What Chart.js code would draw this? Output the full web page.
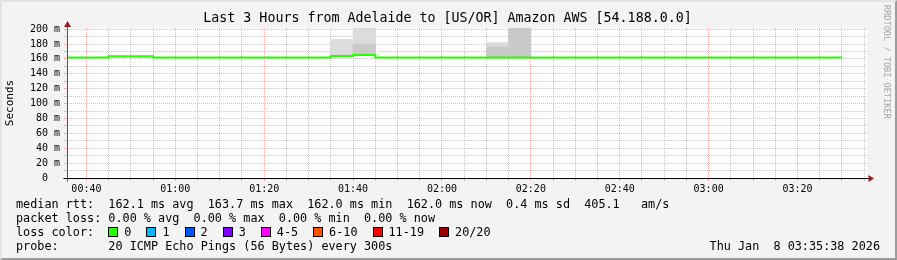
<!DOCTYPE html>
<html>
<head>
<meta charset="utf-8">
<script src="https://cdn.jsdelivr.net/npm/chart.js@4.4.1/dist/chart.umd.min.js"></script>
<style>
  html, body { margin: 0; padding: 0; background: #f3f3f3; }
  #frame { position: relative; width: 897px; height: 260px; background: #f3f3f3; overflow: hidden;
           font-family: "DejaVu Sans Mono", monospace; color: #000; }
  #frame:after { content: ""; position: absolute; left: 0; top: 0; right: 0; bottom: 0; pointer-events: none;
                 border-top: 2px solid #e2e2e2; border-left: 2px solid #e2e2e2;
                 border-right: 2px solid #9c9c9c; border-bottom: 2px solid #9c9c9c; }
  canvas { position: absolute; left: 0; top: 0; }
  #legend { position: absolute; left: 16px; top: 197px; font-size: 11.8px; line-height: 14px; white-space: pre; }
  .box { display: inline-block; width: 8px; height: 8px; border: 1px solid #000; vertical-align: -1px; margin-right: 6px; }
  .item { margin-right: 15px; }
  #stamp { position: absolute; right: 17px; top: 239px; font-size: 11.8px; line-height: 14px; white-space: pre; }
  #credit { position: absolute; left: 882px; top: 5px; writing-mode: vertical-rl; font-size: 8.6px;
            line-height: 10px; color: #a8a8a8; white-space: pre; }
</style>
</head>
<body>
<div id="frame">
  <canvas id="graph" width="897" height="260"></canvas>
  <div id="legend"></div>
  <div id="stamp">Thu Jan  8 03:35:38 2026</div>
  <div id="credit">RRDTOOL / TOBI OETIKER</div>
</div>
<script>
// 5 minute samples, each value covers the 5 minutes ending at its time
const sampleTimes = ['00:35','00:40','00:45','00:50','00:55',
  '01:00','01:05','01:10','01:15','01:20','01:25','01:30','01:35','01:40','01:45','01:50','01:55',
  '02:00','02:05','02:10','02:15','02:20','02:25','02:30','02:35','02:40','02:45','02:50','02:55',
  '03:00','03:05','03:10','03:15','03:20','03:25','03:30'];
const medianRtt = [162.0, 162.0, 162.0, 163.4, 163.4,
  162.0, 162.0, 162.0, 162.0, 162.0, 162.0, 162.0, 162.0, 164.0, 165.2, 162.0, 162.0,
  162.0, 162.0, 162.0, 162.0, 162.0, 162.0, 162.0, 162.0, 162.0, 162.0, 162.0, 162.0,
  162.0, 162.0, 162.0, 162.0, 162.0, 162.0, 162.0];

// smoke (spread of the 20 pings) where it is visible
const smokeTimes = ['01:40', '01:45', '02:15', '02:20'];
const smokeBase = [164.0, 165.2, 162.0, 162.0];
const smokeInnerTop = [null, 180, 176, 210];
const smokeOuterTop = [186, 210, 182, 210];

const xTickLabels = ['00:40','01:00','01:20','01:40','02:00','02:20','02:40','03:00','03:20'];

const lossLabels = ['0', '1', '2', '3', '4-5', '6-10', '11-19', '20/20'];
const lossColors = ['#26ff00', '#00b8ff', '#0059ff', '#7e00ff', '#ff00ff', '#ff5500', '#ff0000', '#a10000'];

const startMin = 35 + 38 / 60;   // 00:35:38
const endMin = startMin + 180;

function toMin(t) {
  const p = t.split(':');
  return Number(p[0]) * 60 + Number(p[1]);
}
function fmt(v) {
  const h = Math.floor(v / 60), m = Math.round(v % 60);
  return String(h).padStart(2, '0') + ':' + String(m).padStart(2, '0');
}

const MAJOR = 'rgba(255, 0, 0, 0.32)';
const MINOR = 'rgba(128, 128, 128, 0.45)';

const rrdFrame = {
  id: 'rrdFrame',
  beforeDraw(chart) {
    const { ctx, chartArea: a } = chart;
    ctx.save();
    ctx.fillStyle = '#ffffff';
    ctx.fillRect(a.left, a.top, a.right - a.left, a.bottom - a.top);
    ctx.restore();
  },
  afterDraw(chart) {
    const { ctx, chartArea: a } = chart;
    const x0 = Math.round(a.left) + 0.5, y0 = Math.round(a.bottom) + 0.5;
    ctx.save();
    ctx.lineWidth = 1;
    ctx.strokeStyle = '#555';
    ctx.beginPath(); ctx.moveTo(x0, y0 + 3); ctx.lineTo(x0, a.top - 2); ctx.stroke();
    ctx.strokeStyle = '#000';
    ctx.beginPath(); ctx.moveTo(x0 - 4, y0); ctx.lineTo(a.right + 2, y0); ctx.stroke();
    ctx.fillStyle = '#9b1b1b';
    ctx.beginPath(); ctx.moveTo(x0, a.top - 7); ctx.lineTo(x0 - 3.5, a.top - 1); ctx.lineTo(x0 + 3.5, a.top - 1); ctx.closePath(); ctx.fill();
    ctx.beginPath(); ctx.moveTo(a.right + 7, y0); ctx.lineTo(a.right + 1.5, y0 - 3.5); ctx.lineTo(a.right + 1.5, y0 + 3.5); ctx.closePath(); ctx.fill();
    ctx.restore();
  }
};

Chart.defaults.font.family = '"DejaVu Sans Mono", monospace';
Chart.defaults.color = '#000';

const lineData = sampleTimes.map((t, i) => ({ x: toMin(t), y: medianRtt[i] }));
const innerData = smokeTimes.map((t, i) => ({ x: toMin(t) - 2.5, y: smokeInnerTop[i] === null ? null : [smokeBase[i], smokeInnerTop[i]] }));
const outerData = smokeTimes.map((t, i) => ({ x: toMin(t) - 2.5, y: [smokeBase[i], smokeOuterTop[i]] }));

new Chart(document.getElementById('graph'), {
  type: 'line',
  data: {
    datasets: [
      {
        label: 'median rtt',
        data: lineData,
        borderColor: '#26ff00',
        borderWidth: 2,
        pointRadius: 0,
        stepped: 'after',
        fill: false,
        order: 0,
        xAxisID: 'x', yAxisID: 'y'
      },
      {
        type: 'bar',
        label: 'smoke inner',
        data: innerData,
        backgroundColor: '#c9c9c9',
        borderWidth: 0,
        grouped: false,
        barPercentage: 1,
        categoryPercentage: 1,
        order: 1,
        xAxisID: 'x', yAxisID: 'y'
      },
      {
        type: 'bar',
        label: 'smoke outer',
        data: outerData,
        backgroundColor: '#dcdcdc',
        borderWidth: 0,
        grouped: false,
        barPercentage: 1,
        categoryPercentage: 1,
        order: 2,
        xAxisID: 'x', yAxisID: 'y'
      }
    ]
  },
  options: {
    responsive: false,
    animation: false,
    events: [],
    layout: { padding: { left: 2, right: 4, top: 2, bottom: 0 } },
    plugins: {
      legend: { display: false },
      tooltip: { enabled: false },
      title: {
        display: true,
        text: 'Last 3 Hours from Adelaide to [US/OR] Amazon AWS [54.188.0.0]',
        font: { size: 13.3, lineHeight: '16px', weight: 'normal' },
        color: '#000',
        padding: { top: 9, bottom: 1 }
      }
    },
    scales: {
      x: {
        type: 'linear',
        position: 'bottom',
        offset: false,
        min: startMin,
        max: endMin,
        afterBuildTicks: (scale) => {
          const ticks = [];
          for (let t = Math.ceil(scale.min / 5) * 5; t <= scale.max; t += 5) ticks.push({ value: t });
          scale.ticks = ticks;
        },
        afterFit: (scale) => { scale.height = 82; },
        ticks: {
          autoSkip: false,
          maxRotation: 0,
          padding: 2,
          font: { size: 10 },
          callback: (v) => { const s = fmt(v); return xTickLabels.includes(s) ? s : ''; }
        },
        grid: {
          offset: false,
          color: (c) => (c.tick && xTickLabels.includes(fmt(c.tick.value)) ? MAJOR : MINOR),
          tickColor: (c) => (c.tick && xTickLabels.includes(fmt(c.tick.value)) ? MAJOR : MINOR),
          lineWidth: 1,
          tickLength: 3
        },
        border: { display: false, dash: [1, 1] }
      },
      y: {
        type: 'linear',
        position: 'left',
        min: 0,
        max: 201.5,
        afterFit: (scale) => { scale.width = 65; },
        ticks: {
          stepSize: 10,
          includeBounds: false,
          autoSkip: false,
          padding: 4,
          font: { size: 10 },
          callback: (v) => (v % 20 !== 0 ? '' : (v === 0 ? '0  ' : v + ' m'))
        },
        grid: {
          color: (c) => (c.tick && c.tick.value % 20 === 0 ? MAJOR : MINOR),
          tickColor: (c) => (c.tick && c.tick.value % 20 === 0 ? MAJOR : MINOR),
          lineWidth: 1,
          tickLength: 3
        },
        border: { display: false, dash: [1, 1] },
        title: {
          display: true,
          text: 'Seconds',
          font: { size: 11 },
          color: '#000',
          padding: { top: 1.4, bottom: 0 }
        }
      },
      yr: {
        type: 'linear',
        position: 'right',
        display: true,
        afterFit: (scale) => { scale.width = 26; },
        ticks: { display: false },
        grid: { display: false },
        border: { display: false }
      }
    }
  },
  plugins: [rrdFrame]
});

// text legend under the graph
const lossItems = lossLabels.map((l, i) =>
  '<span class="item"><span class="box" style="background:' + lossColors[i] + '"></span>' + l + '</span>').join('');
document.getElementById('legend').innerHTML =
  'median rtt:  162.1 ms avg  163.7 ms max  162.0 ms min  162.0 ms now  0.4 ms sd  405.1   am/s\n' +
  'packet loss: 0.00 % avg  0.00 % max  0.00 % min  0.00 % now\n' +
  'loss color:  ' + lossItems + '\n' +
  'probe:       20 ICMP Echo Pings (56 Bytes) every 300s';
</script>
</body>
</html>
